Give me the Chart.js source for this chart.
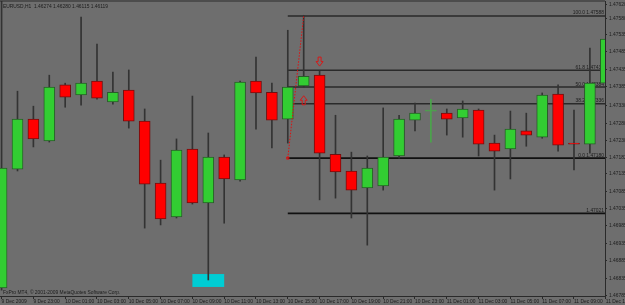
<!DOCTYPE html>
<html><head><meta charset="utf-8">
<script src="https://cdn.jsdelivr.net/npm/chart.js@4.4.0/dist/chart.umd.min.js"></script>
<style>html,body{margin:0;padding:0;background:#6e6e6e;overflow:hidden}#wrap{width:625px;height:305px}</style>
</head><body><div id="wrap"><canvas id="c" width="625" height="305"></canvas></div>
<script>
// ---- data (EURUSD H1, bar 0 = 9 Dec 2009 21:00) ----
const opens  = [1.46807,1.47148,1.47292,1.47229,1.47390,1.47361,1.47401,1.47341,1.47375,1.47286,
                1.47108,1.47011,1.47206,1.47051,1.47183,1.47117,1.47401,1.47369,1.47292,1.47387,
                1.47418,1.47191,1.47143,1.47094,1.47100,1.47186,1.47289,1.47315,1.47309,1.47295,
                1.47318,1.47223,1.47206,1.47258,1.47240,1.47364,1.47223,1.47220,1.47395];
const highs  = [1.47640,1.47372,1.47329,1.47418,1.47395,1.47585,1.47507,1.47427,1.47433,1.47321,
                1.47174,1.47235,1.47358,1.47252,1.47189,1.47401,1.47470,1.47395,1.47547,1.47590,
                1.47430,1.47303,1.47197,1.47186,1.47324,1.47303,1.47338,1.47349,1.47321,1.47344,
                1.47321,1.47246,1.47315,1.47309,1.47367,1.47390,1.47318,1.47496,1.47524];
const lows   = [1.46801,1.47143,1.47212,1.47226,1.47326,1.47332,1.47349,1.47335,1.47266,1.46979,
                1.46988,1.47008,1.47048,1.46830,1.46993,1.47114,1.47263,1.47209,1.47223,1.47384,
                1.47060,1.47065,1.47008,1.46930,1.47088,1.47180,1.47258,1.47226,1.47246,1.47240,
                1.47186,1.47088,1.47120,1.47214,1.47237,1.47200,1.47146,1.47194,1.47392];
const closes = [1.47151,1.47292,1.47235,1.47384,1.47355,1.47395,1.47352,1.47369,1.47286,1.47105,
                1.47005,1.47203,1.47051,1.47183,1.47120,1.47398,1.47367,1.47289,1.47384,1.47415,
                1.47194,1.47140,1.47088,1.47151,1.47183,1.47292,1.47309,1.47315,1.47292,1.47321,
                1.47220,1.47200,1.47263,1.47246,1.47361,1.47217,1.47220,1.47395,1.47522];

const timeTickBars = [0,2,4,6,8,10,12,14,16,18,20,22,24,26,28,30,32,34,36,38];
const timeLabels = ["9 Dec 2009","9 Dec 23:00","10 Dec 01:00","10 Dec 03:00","10 Dec 05:00","10 Dec 07:00",
  "10 Dec 09:00","10 Dec 11:00","10 Dec 13:00","10 Dec 15:00","10 Dec 17:00","10 Dec 19:00","10 Dec 21:00",
  "10 Dec 23:00","11 Dec 01:00","11 Dec 03:00","11 Dec 05:00","11 Dec 07:00","11 Dec 09:00","11 Dec 11:00"];
const priceTicks = ["1.47620","1.47580","1.47535","1.47485","1.47435","1.47385","1.47330","1.47280","1.47230",
  "1.47182","1.47135","1.47085","1.47035","1.46985","1.46935","1.46885","1.46835","1.46785"];

const fibAnchorBars = [18, 19];
const fibAnchorPrices = [1.47180, 1.47588];
const fibPercents = [100.0, 61.8, 50.0, 38.2, 0.0];
const fibPrices = [1.47588, 1.47432, 1.47384, 1.47336, 1.47180];
const hLinePrice = 1.47021;
const rayEndBar = 40;

const arrowDown = {bar: 20, price: 1.47457};
const arrowUp = {bar: 19, price: 1.47346};
const boxBars = [12, 14];
const boxPrices = [1.46847, 1.46810];

const titleText = "EURUSD,H1  1.46274 1.46280 1.46115 1.46119";
const copyText = "FxPro MT4, \u00A9 2001-2009 MetaQuotes Software Corp.";

// ---- styles ----
const BG = '#6e6e6e', INK = '#1c1c1c', WICK = '#333333', DOJI = '#4aa64a';
const UPC = '#32cd32', DNC = '#ff0000', UPB = '#2a5c2a', DNB = '#701010';
const FS = 4.9;
const FONT = "'Liberation Sans', Arial, sans-serif";
Chart.defaults.font.family = FONT;

const idx = opens.map((_, i) => i);
const isDoji = i => opens[i] === closes[i];
const isUp = i => closes[i] > opens[i];

function drawArrow(ctx, cx, cy, dir) {
  const hw = 3.5, sw = 1.5, h = 4.5;
  ctx.beginPath();
  ctx.moveTo(cx - sw, cy - dir * h);
  ctx.lineTo(cx + sw, cy - dir * h);
  ctx.lineTo(cx + sw, cy);
  ctx.lineTo(cx + hw, cy);
  ctx.lineTo(cx, cy + dir * h);
  ctx.lineTo(cx - hw, cy);
  ctx.lineTo(cx - sw, cy);
  ctx.closePath();
  ctx.stroke();
}

const decor = {
  id: 'decor',
  beforeDraw(chart) {
    const ctx = chart.ctx;
    ctx.save(); ctx.fillStyle = BG; ctx.fillRect(0, 0, chart.width, chart.height); ctx.restore();
  },
  beforeDatasetsDraw(chart) {
    const {ctx, chartArea: a} = chart;
    const x = chart.scales.x, y = chart.scales.y;
    ctx.save();
    ctx.beginPath(); ctx.rect(a.left, a.top, a.right - a.left, a.bottom - a.top); ctx.clip();
    const x1 = x.getPixelForValue(boxBars[0]), x2 = x.getPixelForValue(boxBars[1]);
    const y1 = y.getPixelForValue(boxPrices[0]), y2 = y.getPixelForValue(boxPrices[1]);
    ctx.fillStyle = '#00cdd4';
    ctx.fillRect(x1, y1, x2 - x1, y2 - y1);
    ctx.font = FS + 'px ' + FONT;
    ctx.fillStyle = INK; ctx.textAlign = 'right'; ctx.textBaseline = 'alphabetic';
    fibPrices.forEach((p, i) => {
      ctx.fillText(fibPercents[i].toFixed(1) + ' ' + p.toFixed(5), a.right - 1, y.getPixelForValue(p) - 1.5);
    });
    ctx.fillText(hLinePrice.toFixed(5), a.right - 1, y.getPixelForValue(hLinePrice) - 1.5);
    ctx.restore();
  },
  afterDatasetsDraw(chart) {
    const {ctx, chartArea: a} = chart;
    const x = chart.scales.x, y = chart.scales.y;
    ctx.save();
    ctx.strokeStyle = '#d81818'; ctx.lineWidth = 1;
    drawArrow(ctx, x.getPixelForValue(arrowDown.bar), y.getPixelForValue(arrowDown.price), 1);
    drawArrow(ctx, x.getPixelForValue(arrowUp.bar), y.getPixelForValue(arrowUp.price), -1);
    ctx.fillStyle = '#2a2a2a';
    ctx.fillRect(0, a.top - 0.5, a.right, 1);
    ctx.font = FS + 'px ' + FONT;
    ctx.fillStyle = INK; ctx.textAlign = 'left'; ctx.textBaseline = 'alphabetic';
    ctx.fillText(titleText, 3, 7.8);
    ctx.fillText(copyText, 3, 294);
    ctx.restore();
  }
};

const fibSets = fibPrices.map(p => ({
  type: 'line', data: [{x: fibAnchorBars[0], y: p}, {x: rayEndBar, y: p}],
  borderColor: p === fibAnchorPrices[0] ? '#111111' : '#2a2a2a',
  borderWidth: p === fibAnchorPrices[0] ? 1.8 : 1.5,
  pointRadius: 0, order: 3, clip: 0
}));

new Chart(document.getElementById('c'), {
  type: 'bar',
  data: {
    datasets: [
      {
        type: 'bar', data: idx.map(i => ({x: i, y: [lows[i], highs[i]]})),
        backgroundColor: idx.map(i => isDoji(i) ? DOJI : WICK),
        borderWidth: 0, barThickness: 1, grouped: false, order: 2, clip: 0
      },
      {
        type: 'bar', data: idx.map(i => ({x: i, y: [opens[i], closes[i]]})),
        backgroundColor: idx.map(i => isDoji(i) ? DOJI : (isUp(i) ? UPC : DNC)),
        borderColor: idx.map(i => isDoji(i) ? DOJI : (isUp(i) ? UPB : DNB)),
        borderWidth: 1, borderSkipped: false, barThickness: 11, minBarLength: 1,
        grouped: false, order: 1, clip: 0
      },
      ...fibSets,
      {
        type: 'line', data: [{x: fibAnchorBars[0], y: hLinePrice}, {x: rayEndBar, y: hLinePrice}],
        borderColor: '#111111', borderWidth: 1.8, pointRadius: 0, order: 3, clip: 0
      },
      {
        type: 'line',
        data: [{x: fibAnchorBars[0], y: fibAnchorPrices[0]}, {x: fibAnchorBars[1], y: fibAnchorPrices[1]}],
        borderColor: '#e01010', borderWidth: 1, borderDash: [1.5, 1.5],
        pointRadius: [1.5, 0], pointStyle: 'rect', pointBackgroundColor: 'rgba(0,0,0,0)',
        pointBorderColor: '#e01010', pointBorderWidth: 1, order: 0, clip: 0
      }
    ]
  },
  options: {
    responsive: false, devicePixelRatio: 1, animation: false, events: [],
    layout: {autoPadding: false, padding: {top: 1, left: 0, right: 0, bottom: 0}},
    plugins: {legend: {display: false}, tooltip: {enabled: false}},
    scales: {
      x: {
        type: 'linear', min: -0.1, max: 37.95, offset: false,
        grid: {display: true, drawOnChartArea: false, drawTicks: true, tickLength: 3, color: '#2a2a2a', offset: false},
        border: {display: true, color: '#2a2a2a', width: 1},
        ticks: {autoSkip: false, maxRotation: 0, minRotation: 0, align: 'start', padding: 0,
                color: INK, font: {size: FS}, callback: (v, i) => timeLabels[i]},
        afterBuildTicks(s) { s.ticks = timeTickBars.map(v => ({value: v})); },
        afterFit(s) { s.height = 9; s.paddingLeft = 0; s.paddingRight = 0; }
      },
      y: {
        type: 'linear', position: 'right', min: 1.46784, max: 1.47631, beginAtZero: false,
        grid: {drawOnChartArea: false, drawTicks: true, tickLength: 2, color: '#2a2a2a'},
        border: {display: true, color: '#2a2a2a', width: 1},
        ticks: {padding: 2, color: INK, font: {size: FS}, callback: (v, i) => priceTicks[i]},
        afterBuildTicks(s) { s.ticks = priceTicks.map(t => ({value: parseFloat(t)})); },
        afterFit(s) { s.width = 20; s.paddingTop = 0; s.paddingBottom = 0; }
      }
    }
  },
  plugins: [decor]
});
</script>
</body></html>
